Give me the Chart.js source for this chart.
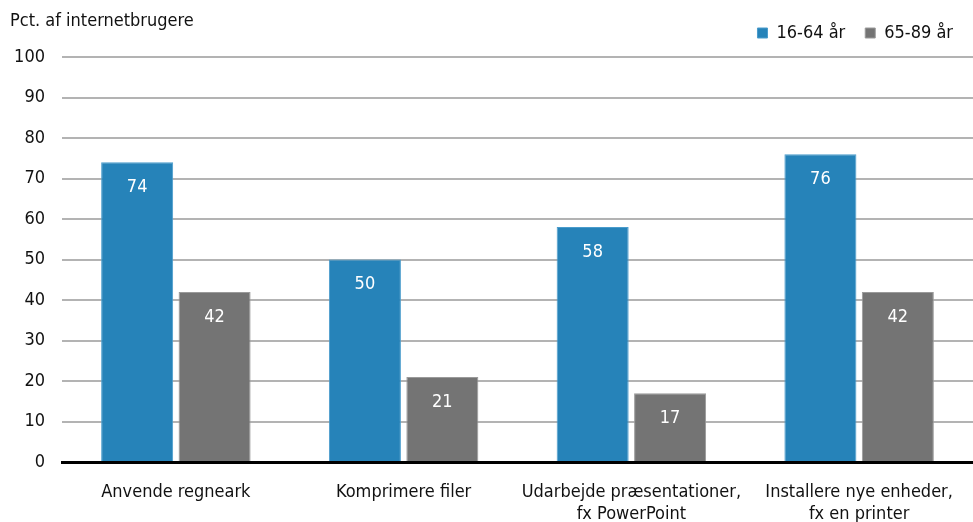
<!DOCTYPE html>
<html><head><meta charset="utf-8">
<script src="https://cdn.jsdelivr.net/npm/chart.js@4/dist/chart.umd.min.js"></script>
<style>html,body{margin:0;padding:0;background:#fff}#wrap{width:973px;height:522px}</style>
</head><body><div id="wrap"><canvas id="c" width="973" height="522"></canvas></div>
<script>
const categories = [["Anvende regneark"], ["Komprimere filer"], ["Udarbejde præsentationer,", "fx PowerPoint"], ["Installere nye enheder,", "fx en printer"]];
const seriesNames = ["16-64 år", "65-89 år"];
const young = [74, 50, 58, 76];
const old = [42, 21, 17, 42];
const yTicks = [0, 10, 20, 30, 40, 50, 60, 70, 80, 90, 100];
const yTitle = "Pct. af internetbrugere";

const FONT = "'DejaVu Sans Condensed','Noto Sans',sans-serif";

const labelsPlugin = {
  id: 'labels',
  beforeUpdate(chart) {
    const lg = chart.legend;
    if (lg && !lg._patched) {
      const f = lg.fit;
      lg.fit = function () { f.call(this); this.height += 5; };
      lg._patched = true;
    }
  },
  afterDatasetsDraw(chart) {
    const ctx = chart.ctx;
    ctx.save();
    ctx.font = "18px " + FONT;
    ctx.fillStyle = '#fff';
    ctx.textAlign = 'center';
    ctx.textBaseline = 'middle';
    chart.data.datasets.forEach((ds, i) => {
      chart.getDatasetMeta(i).data.forEach((bar, j) => {
        ctx.fillText(String(ds.data[j]), bar.x, bar.y + 25);
      });
    });
    ctx.fillStyle = '#111';
    ctx.textAlign = 'left';
    ctx.fillText(yTitle, 10, 21);
    ctx.restore();
  }
};

new Chart(document.getElementById('c'), {
  type: 'bar',
  data: {
    labels: categories,
    datasets: [
      { label: seriesNames[0], data: young, backgroundColor: '#2683b9', borderColor: '#4a9ccc', borderWidth: 1, categoryPercentage: 0.68, barPercentage: 0.93 },
      { label: seriesNames[1], data: old, backgroundColor: '#747474', borderColor: '#9a9a9a', borderWidth: 1, categoryPercentage: 0.68, barPercentage: 0.93 }
    ]
  },
  options: {
    responsive: false,
    animation: false,
    layout: { padding: { top: 4, right: 0, left: 0, bottom: 0 } },
    plugins: {
      legend: {
        position: 'top', align: 'end',
        labels: { boxWidth: 10, boxHeight: 10, padding: 20, color: '#111', font: { family: FONT, size: 18 } }
      },
      tooltip: { enabled: false }
    },
    scales: {
      x: {
        afterFit(s) { s.height = 60; },
        grid: { display: false },
        border: { display: true, color: '#000', width: 3 },
        ticks: { color: '#111', font: { family: FONT, size: 18, lineHeight: 1.25 }, padding: 11, maxRotation: 0 }
      },
      y: {
        min: 0, max: 100,
        afterFit(s) { s.width = 62; },
        afterBuildTicks(s) { s.ticks = yTicks.map(v => ({ value: v })); },
        grid: { color: '#b3b3b3', lineWidth: 2, drawTicks: false },
        border: { display: false },
        ticks: { color: '#111', font: { family: FONT, size: 18 }, padding: 17 }
      }
    }
  },
  plugins: [labelsPlugin]
});
</script></body></html>
